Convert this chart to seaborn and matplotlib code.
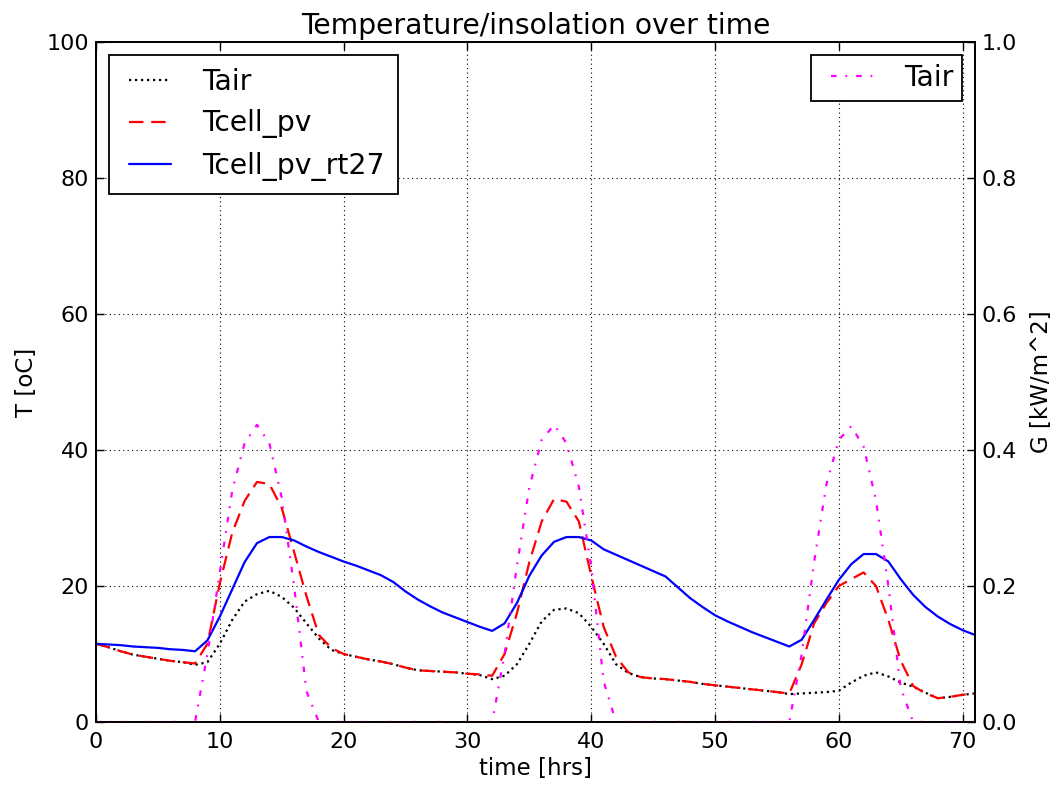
import numpy as np
import pandas as pd
import matplotlib
matplotlib.use("Agg")
import matplotlib.pyplot as plt
from matplotlib.legend_handler import HandlerLine2D
import seaborn as sns

# ---- data ----
hours = list(range(72))

tair = [11.5, 11.0, 10.4, 9.9, 9.6, 9.3, 9.0, 8.8, 8.4, 8.8,
        11.5, 15.0, 17.7, 18.8, 19.3, 18.4, 16.8, 14.5, 12.3, 10.6,
        10.0, 9.6, 9.2, 8.9, 8.5, 8.0, 7.6, 7.5, 7.4, 7.3,
        7.1, 6.9, 6.3, 6.8, 8.5, 11.5, 14.8, 16.5, 16.7, 16.0,
        14.0, 11.5, 8.5, 7.2, 6.6, 6.4, 6.3, 6.1, 5.9, 5.6,
        5.4, 5.2, 5.0, 4.8, 4.6, 4.4, 4.1, 4.2, 4.3, 4.4,
        4.6, 5.8, 6.8, 7.3, 6.7, 5.8, 5.2, 4.3, 3.5, 3.7,
        4.0, 4.2]

tcell_pv = [11.5, 11.0, 10.4, 9.9, 9.6, 9.3, 9.0, 8.8, 8.6, 11.5,
            20.4, 27.8, 32.5, 35.3, 35.0, 31.5, 25.0, 18.5, 12.8, 10.9,
            10.0, 9.6, 9.2, 8.9, 8.5, 8.0, 7.6, 7.5, 7.4, 7.3,
            7.1, 7.0, 6.8, 10.0, 16.0, 23.5, 29.5, 32.8, 32.4, 29.5,
            21.5, 14.0, 9.6, 7.3, 6.6, 6.4, 6.3, 6.1, 5.9, 5.6,
            5.4, 5.2, 5.0, 4.8, 4.6, 4.4, 4.2, 8.5, 14.5, 17.5,
            20.0, 21.0, 22.0, 20.0, 15.0, 9.0, 5.3, 4.2, 3.5, 3.7,
            4.0, 4.2]

tcell_pv_rt27 = [11.5, 11.4, 11.3, 11.1, 11.0, 10.9, 10.7, 10.6, 10.4, 12.0,
                 15.5, 19.5, 23.5, 26.3, 27.2, 27.2, 26.7, 25.8, 25.0, 24.3,
                 23.6, 23.0, 22.3, 21.6, 20.6, 19.2, 18.0, 17.0, 16.1, 15.4,
                 14.7, 14.0, 13.4, 14.5, 17.5, 21.5, 24.5, 26.5, 27.2, 27.2,
                 26.7, 25.4, 24.6, 23.8, 23.0, 22.2, 21.4, 19.8, 18.2, 16.9,
                 15.7, 14.8, 14.0, 13.2, 12.5, 11.8, 11.1, 12.1, 15.0, 18.0,
                 20.9, 23.2, 24.7, 24.7, 23.6, 21.0, 18.7, 16.9, 15.5, 14.4,
                 13.5, 12.8]

insolation = [0, 0, 0, 0, 0, 0, 0, 0, 0, 0.10,
              0.22, 0.34, 0.41, 0.437, 0.41, 0.33, 0.20, 0.045, 0, 0,
              0, 0, 0, 0, 0, 0, 0, 0, 0, 0,
              0, 0, 0, 0.10, 0.23, 0.345, 0.415, 0.437, 0.41, 0.346,
              0.228, 0.06, 0, 0, 0, 0, 0, 0, 0, 0,
              0, 0, 0, 0, 0, 0, 0, 0.10, 0.235, 0.35,
              0.415, 0.435, 0.405, 0.326, 0.20, 0.05, 0, 0, 0, 0,
              0, 0]

x_ticks = [0, 10, 20, 30, 40, 50, 60, 70]
yl_ticks = [0, 20, 40, 60, 80, 100]
yr_ticks = [0.0, 0.2, 0.4, 0.6, 0.8, 1.0]

df = pd.DataFrame({"time": hours, "Tair": tair, "Tcell_pv": tcell_pv,
                   "Tcell_pv_rt27": tcell_pv_rt27, "G": insolation})

# ---- style ----
sns.set_style("white")
plt.rcParams.update({
    "font.family": ["DejaVu Sans"],
    "axes.edgecolor": "black",
    "axes.linewidth": 1.3,
    "xtick.direction": "in",
    "ytick.direction": "in",
    "xtick.color": "black",
    "ytick.color": "black",
    "text.color": "black",
    "axes.labelcolor": "black",
})

LEG_FS = 20.3
leg1_kw = dict(fontsize=LEG_FS, frameon=True, fancybox=False, edgecolor="black",
               framealpha=1, handlelength=1.74, handletextpad=1.1,
               borderpad=0.47, labelspacing=0.48, borderaxespad=0.45,
               handler_map={matplotlib.lines.Line2D: HandlerLine2D(xpad=0.25)})
leg2_kw = dict(fontsize=LEG_FS, frameon=True, fancybox=False, edgecolor="black",
               framealpha=1, handlelength=1.87, handletextpad=1.1,
               borderpad=0.33, labelspacing=0.48, borderaxespad=0.45,
               handler_map={matplotlib.lines.Line2D: HandlerLine2D(xpad=0.38)})

fig = plt.figure(figsize=(10.55, 7.87), dpi=100)
ax = fig.add_axes([0.0910, 0.0826, 0.8332, 0.8640])

sns.lineplot(data=df, x="time", y="Tair", ax=ax, color="black",
             linestyle=(0, (1.0, 1.7)), linewidth=1.6, label="Tair")
sns.lineplot(data=df, x="time", y="Tcell_pv", ax=ax, color="red",
             linestyle=(0, (6.5, 3.5)), linewidth=1.6, label="Tcell_pv")
sns.lineplot(data=df, x="time", y="Tcell_pv_rt27", ax=ax, color="blue",
             linestyle="-", linewidth=1.6, label="Tcell_pv_rt27")

ax.set_xlim(0, 71)
ax.set_ylim(0, 100)
ax.set_xticks(x_ticks)
ax.set_yticks(yl_ticks)
ax.set_xlabel("time [hrs]", fontsize=16.5, labelpad=4)
ax.set_ylabel("T [oC]", fontsize=16.5, labelpad=6)
ax.set_title("Temperature/insolation over time", fontsize=20.3, pad=6)
ax.tick_params(axis="both", labelsize=16, length=6, width=1, top=True,
               bottom=True, left=True, right=False)
ax.tick_params(axis="x", pad=7)
ax.tick_params(axis="y", pad=5)
ax.grid(True, color="black", linestyle=(0, (1, 3)), linewidth=0.8)
for s in ax.spines.values():
    s.set_visible(True)
    s.set_color("black")

leg1 = ax.legend(loc="upper left", **leg1_kw)
leg1.get_frame().set_linewidth(1.3)

ax2 = ax.twinx()
sns.lineplot(data=df, x="time", y="G", ax=ax2, color="magenta",
             linestyle=(0, (2.5, 4, 0.8, 4)), linewidth=1.6, label="Tair")
ax2.set_ylim(0, 1.0)
ax2.set_xlim(0, 71)
ax2.set_yticks(yr_ticks)
ax2.set_yticklabels([f"{v:.1f}" for v in yr_ticks])
ax2.set_ylabel("G [kW/m^2]", fontsize=16.5, labelpad=9)
ax2.tick_params(axis="y", labelsize=16, length=6, width=1, direction="in",
                pad=5, left=False, right=True)
ax2.grid(False)
leg2 = ax2.legend(loc="upper right", **leg2_kw)
leg2.get_frame().set_linewidth(1.3)

fig.savefig("out.png", dpi=100)
